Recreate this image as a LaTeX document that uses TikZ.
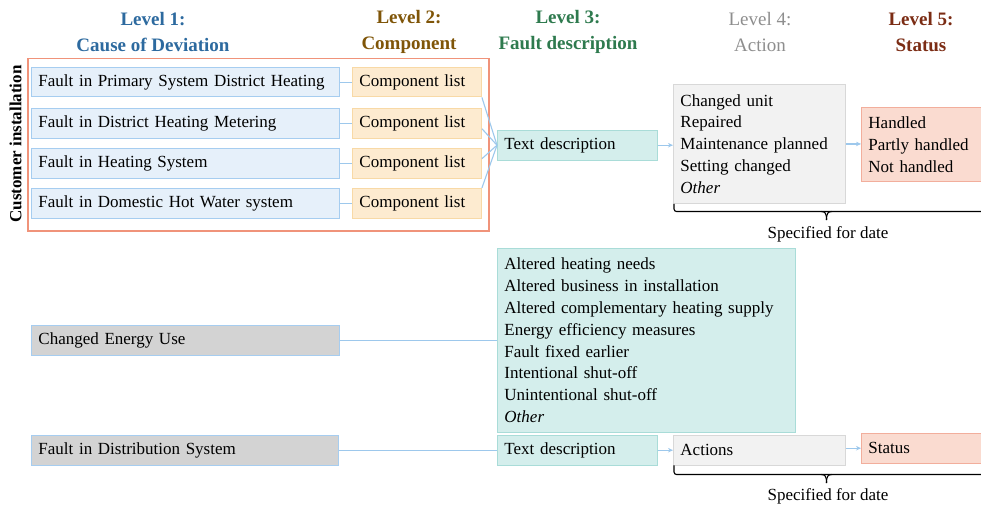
\documentclass[tikz,border=0pt]{standalone}
\usepackage{fontspec}
\setmainfont{Liberation Serif}
\usetikzlibrary{calc,arrows.meta}
\definecolor{hOne}{HTML}{2D6A9F}
\definecolor{hTwo}{HTML}{7F5508}
\definecolor{hThree}{HTML}{2E7A4E}
\definecolor{hFour}{HTML}{8E8E8E}
\definecolor{hFive}{HTML}{7B2C14}
\definecolor{blueF}{HTML}{E6F0FA}
\definecolor{blueB}{HTML}{A6CDF0}
\definecolor{compF}{HTML}{FDEBD0}
\definecolor{compB}{HTML}{F8D9A6}
\definecolor{tealF}{HTML}{D4EEEC}
\definecolor{tealB}{HTML}{A9DCD8}
\definecolor{grayF}{HTML}{F2F2F2}
\definecolor{grayB}{HTML}{D8D8D8}
\definecolor{statF}{HTML}{FADBD0}
\definecolor{statB}{HTML}{F2AE9C}
\definecolor{darkF}{HTML}{D3D3D3}
\definecolor{frameC}{HTML}{F0937A}
\definecolor{connC}{HTML}{9DC8EC}
\begin{document}
\begin{tikzpicture}[x=1pt,y=-1pt,
  txt/.style={font=\fontsize{17}{21.8}\selectfont},
  hdr/.style={font=\bfseries\fontsize{19}{26}\selectfont, align=center},
  box/.style={txt, anchor=north west, draw, line width=0.9pt, inner xsep=7pt, inner ysep=0pt, align=left, minimum height=29.5pt},
  lvlone/.style={box, fill=blueF, draw=blueB, text width=294pt},
  darkbox/.style={box, fill=darkF, draw=blueB, text width=294pt},
  compbox/.style={box, fill=compF, draw=compB, text width=115pt},
  tealbox/.style={box, fill=tealF, draw=tealB, text width=146pt},
  actbox/.style={box, fill=grayF, draw=grayB, text width=158pt},
  statbox/.style={box, fill=statF, draw=statB, text width=106pt},
  conn/.style={draw=connC, line width=1.1pt},
  arr/.style={conn, -{Stealth[length=5pt,width=4.5pt]}},
  bracket/.style={draw=black, line width=1.1pt}
]
\useasboundingbox (0,0) rectangle (981,508);

% headers
\node[hdr, text=hOne] (h1) at (153,32) {Level 1:\\Cause of Deviation};
\node[hdr, text=hTwo] (h2) at (409,32) {Level 2:\\Component};
\node[hdr, text=hThree] (h3) at (568,32) {Level 3:\\Fault description};
\node[hdr, text=hFour, font=\fontsize{19}{26}\selectfont] (h4) at (760,32) {Level 4:\\Action};
\node[hdr, text=hFive] (h5) at (921,32) {Level 5:\\Status};

% customer installation frame
\node[draw=frameC, line width=1.5pt, anchor=north west, minimum width=461pt, minimum height=172pt, inner sep=0pt] (frame) at (27,58) {};
\node[rotate=90, font=\bfseries\fontsize{17}{20}\selectfont] (ci) at (15.5,144) {Customer installation};

% level 1 and 2 rows
\node[lvlone] (a1) at (31,67) {\mbox{Fault in Primary System District Heating}};
\node[lvlone] (a2) at (31,108) {Fault in District Heating Metering};
\node[lvlone] (a3) at (31,148) {Fault in Heating System};
\node[lvlone] (a4) at (31,188) {Fault in Domestic Hot Water system};
\node[compbox] (c1) at (352,67) {Component list};
\node[compbox] (c2) at (352,108) {Component list};
\node[compbox] (c3) at (352,148) {Component list};
\node[compbox] (c4) at (352,188) {Component list};

\node[tealbox] (t1) at (497,130) {Text description};
\node[actbox, minimum height=119pt] (l4) at (673,84) {Changed unit\\Repaired\\Maintenance planned\\Setting changed\\\textit{Other}};
\node[statbox, minimum height=74pt] (l5) at (861,107) {Handled\\Partly handled\\Not handled};

% changed energy use
\node[darkbox] (ceu) at (31,325) {Changed Energy Use};
\node[box, fill=tealF, draw=tealB, text width=284pt, minimum height=184pt] (big) at (497,248) {Altered heating needs\\Altered business in installation\\Altered complementary heating supply\\Energy efficiency measures\\Fault fixed earlier\\Intentional shut-off\\Unintentional shut-off\\\textit{Other}};

% distribution system
\node[darkbox, text width=293pt] (fds) at (31,435) {Fault in Distribution System};
\node[tealbox] (t2) at (497,435) {Text description};
\node[actbox] (act) at (673,435) {Actions};
\node[statbox] (st) at (861,433) {Status};

% connectors
\draw[conn] (a1.east) -- (c1.west);
\draw[conn] (a2.east) -- (c2.west);
\draw[conn] (a3.east) -- (c3.west);
\draw[conn] (a4.east) -- (c4.west);
\draw[conn] (c1.south east) -- (t1.west);
\draw[conn] ($(c2.east)+(0,5.5)$) -- (t1.west);
\draw[conn] ($(c3.east)+(0,-4.5)$) -- (t1.west);
\draw[conn] (c4.north east) -- (t1.west);
\draw[arr] (t1.east) -- (t1.east -| l4.west);
\draw[arr] (l4.east) -- (l4.east -| l5.west);
\draw[conn] (ceu.east) -- (ceu.east -| big.west);
\draw[conn] (fds.east) -- (t2.west);
\draw[arr] (t2.east) -- (act.west);
\draw[arr] (act.east |- st.west) -- (st.west);

% brackets
\coordinate (b1s) at ([xshift=1pt]l4.south west);
\coordinate (b1e) at (982,211.5);
\draw[bracket, rounded corners=2.5pt] (b1s) |- (b1e);
\draw[bracket] (821,211.5) .. controls (825,211.5) and (826.5,213) .. (826.5,220);
\draw[bracket] (832,211.5) .. controls (828,211.5) and (826.5,213) .. (826.5,220);
\node[txt] (sd1) at (828,234) {Specified for date};

\coordinate (b2s) at ([xshift=1pt]act.south west);
\coordinate (b2e) at (982,474.5);
\draw[bracket, rounded corners=2.5pt] (b2s) |- (b2e);
\draw[bracket] (821,474.5) .. controls (825,474.5) and (826.5,476) .. (826.5,483);
\draw[bracket] (832,474.5) .. controls (828,474.5) and (826.5,476) .. (826.5,483);
\node[txt] (sd2) at (828,496) {Specified for date};
\end{tikzpicture}
\end{document}
